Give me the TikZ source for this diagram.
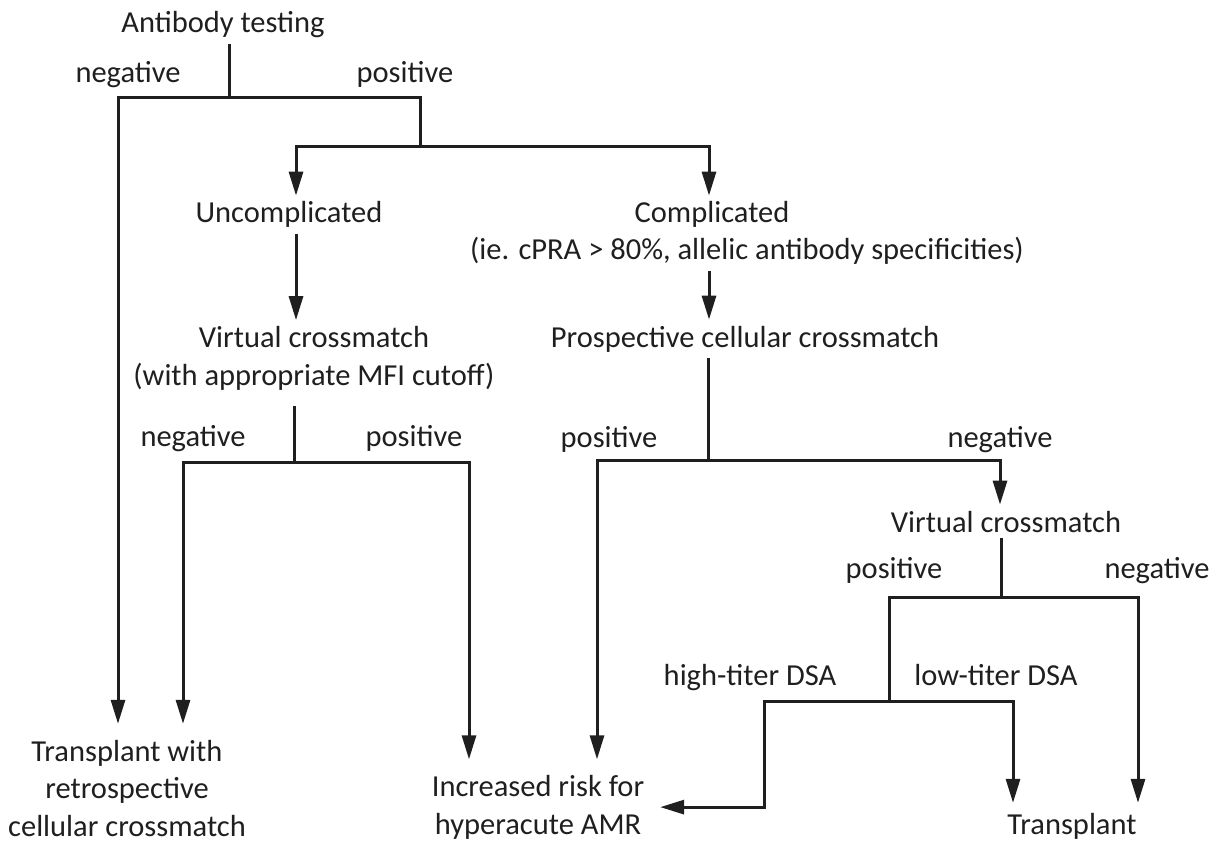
\documentclass[tikz,border=0pt]{standalone}
\usepackage{fontspec}
\setmainfont{Carlito}
\usepackage{tikz}
\usetikzlibrary{positioning, arrows.meta, calc}

\begin{document}
\begin{tikzpicture}[
    x=1pt, y=-1pt,
    font=\fontsize{30.5pt}{37.5pt}\selectfont,
    stage/.style={
        anchor=base, inner sep=6pt,
        text=black!88, align=center
    },
    branch/.style={stage},
    outcome/.style={stage, outer sep=10pt},
    link/.style={line width=3pt, draw=black!88},
    arrow/.style={link, -{Triangle[length=24pt, width=14pt]}},
]
\useasboundingbox (0,0) rectangle (1218,842);

% ---------- Antibody testing ----------
\node[stage] (abt) at (223,33) {Antibody testing};
\node[branch] (abtneg) at (128,83) {negative};
\node[branch] (abtpos) at (405,83) {positive};

% ---------- Uncomplicated / complicated ----------
\node[stage] (unc) at (289,223) {Uncomplicated};
\node[stage] (cmp) at (712,223) {Complicated};
\node[stage] (cmpnote) at (747,260) {(ie. cPRA > 80\%, allelic antibody specificities)};

% ---------- Crossmatches ----------
% (base of a two-line node = its last line)
\node[stage] (vxl) at (314,385) {Virtual crossmatch\\(with appropriate MFI cutoff)};
\node[branch] (vxlneg) at (193,446) {negative};
\node[branch] (vxlpos) at (414,446) {positive};

\node[stage] (pcc) at (745,347) {Prospective cellular crossmatch};
\node[branch] (pccpos) at (609,447) {positive};
\node[branch] (pccneg) at (1000,447) {negative};

\node[stage] (vxr) at (1006,532) {Virtual crossmatch};
\node[branch] (vxrpos) at (894,578) {positive};
\node[branch] (vxrneg) at (1157,578) {negative};

\node[branch] (dsahigh) at (750,685) {high-titer DSA};
\node[branch] (dsalow) at (996,685) {low-titer DSA};

% ---------- Outcomes ----------
\node[outcome] (txr) at (127,836) {Transplant with\\retrospective\\cellular crossmatch};
\node[outcome] (risk) at (538,834) {Increased risk for\\hyperacute AMR};
\node[outcome, outer sep=4pt] (tx) at (1072,834) {Transplant};

% ---------- Junctions ----------
\coordinate (abtj)   at (229,98);
\coordinate (abtjl)  at (118,98);
\coordinate (abtjr)  at (420,98);
\coordinate (splitj) at (420,147);
\coordinate (splitl) at (296,147);
\coordinate (splitr) at (709,147);
\coordinate (vxlj)   at (294,462);
\coordinate (vxljl)  at (183,462);
\coordinate (vxljr)  at (469,462);
\coordinate (pccj)   at (708,460);
\coordinate (pccjl)  at (597,460);
\coordinate (pccjr)  at (1000,460);
\coordinate (vxrj)   at (1001,597);
\coordinate (vxrjl)  at (889,597);
\coordinate (vxrjr)  at (1138,597);
\coordinate (dsaj)   at (889,701);
\coordinate (dsajl)  at (764,701);
\coordinate (dsajr)  at (1013,701);

% ---------- Arrows ----------
\draw[link] (abt.south -| abtj) -- (abtj);
\draw[arrow] (abtj) -- (abtjl) -- (abtjl |- txr.north);
\draw[link] (abtj) -- (abtjr) -- (splitj);
\draw[arrow] (splitj) -- (splitl) -- (splitl |- unc.north);
\draw[arrow] (splitj) -- (splitr) -- (splitr |- cmp.north);

\draw[arrow] (unc.south -| splitl) -- (vxl.north -| splitl);
\draw[arrow] (cmpnote.south -| splitr) -- (pcc.north -| splitr);

% virtual crossmatch (left)
\draw[link, shorten <=10pt] (vxl.south -| vxlj) -- (vxlj);
\draw[arrow] (vxlj) -- (vxljl) -- (vxljl |- txr.north);
\draw[arrow] (vxlj) -- (vxljr) -- (vxljr |- risk.north);

% prospective cellular crossmatch
\draw[link] (pcc.south -| pccj) -- (pccj);
\draw[arrow] (pccj) -- (pccjl) -- (pccjl |- risk.north);
\draw[arrow] (pccj) -- (pccjr) -- (pccjr |- vxr.north);

% virtual crossmatch (right)
\draw[link] (vxr.south -| vxrj) -- (vxrj);
\draw[link] (vxrj) -- (vxrjl) -- (dsaj);
\draw[arrow] (vxrj) -- (vxrjr) -- (vxrjr |- tx.north);
\draw[arrow] (dsaj) -- (dsajr) -- (dsajr |- tx.north);
\draw[arrow] (dsaj) -- (dsajl) -- (dsajl |- risk.east) -- (risk.east);

\end{tikzpicture}
\end{document}
